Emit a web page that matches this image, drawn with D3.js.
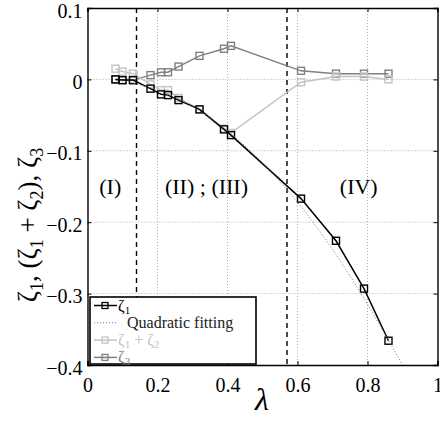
<!DOCTYPE html>
<html lang="en">
<head>
  <meta charset="UTF-8">
  <title>zeta vs lambda</title>
  <script src="https://d3js.org/d3.v7.min.js"></script>
  <style>
    body { margin: 0; background: #fff; }
    svg text { font-family: "Liberation Serif", "Times New Roman", Times, "DejaVu Serif", serif; }
  </style>
</head>
<body>
  <div id="chart"></div>

  <script>
    // values
    const lambdas   = [0.08, 0.10, 0.13, 0.18, 0.21, 0.23, 0.26, 0.32, 0.39, 0.41, 0.61, 0.71, 0.79, 0.86];
    const zeta1     = [0, -0.001, -0.001, -0.013, -0.021, -0.022, -0.029, -0.042, -0.070, -0.078, -0.167, -0.226, -0.293, -0.366];
    const zeta12    = [0.015, 0.011, 0.008, -0.007, -0.015, -0.015, -0.026, -0.042, -0.069, -0.075, -0.004, 0.004, 0.004, 0.0];
    const zeta3     = [0, -0.001, -0.001, 0.006, 0.010, 0.010, 0.018, 0.033, 0.043, 0.047, 0.012, 0.008, 0.008, 0.008];
    const fitLambda = [0.10, 0.20, 0.30, 0.40, 0.50, 0.60, 0.70, 0.80, 0.90];
    const fitValues = [-0.002, -0.015, -0.038, -0.072, -0.117, -0.172, -0.238, -0.315, -0.400];
    const regionBounds = [0.14, 0.57];
    const regionLabels = [{text: "(I)", x: 0.065}, {text: "(II) ; (III)", x: 0.34}, {text: "(IV)", x: 0.775}];
    const regionLabelY = -0.15;
    const xTicks = [0, 0.2, 0.4, 0.6, 0.8, 1];
    const yTicks = [0.1, 0, -0.1, -0.2, -0.3, -0.4];

    const SERIF = '"Liberation Serif", "Times New Roman", Times, serif';
    const W = 440, H = 421;
    const margin = {top: 8, right: 2.5, bottom: 56, left: 87.5};
    const width = W - margin.left - margin.right,
          height = H - margin.top - margin.bottom;

    const svg = d3.select("#chart").append("svg")
                  .attr("width", W)
                  .attr("height", H)
                  .attr("font-family", SERIF);
    const g = svg.append("g")
                 .attr("transform", `translate(${margin.left},${margin.top})`);

    const x = d3.scaleLinear().domain([0, 1]).range([0, width]);
    const y = d3.scaleLinear().domain([-0.4, 0.1]).range([height, 0]);

    // dotted grid
    g.append("g")
     .selectAll("line")
     .data(xTicks.slice(1, -1))
     .enter().append("line")
     .attr("x1", d => x(d)).attr("x2", d => x(d))
     .attr("y1", 0).attr("y2", height)
     .style("stroke", "#aaa").style("stroke-dasharray", "1,2");
    g.append("g")
     .selectAll("line")
     .data(yTicks.slice(1, -1))
     .enter().append("line")
     .attr("y1", d => y(d)).attr("y2", d => y(d))
     .attr("x1", 0).attr("x2", width)
     .style("stroke", "#aaa").style("stroke-dasharray", "1,2");

    // axes with inward ticks
    const fmt = d => d === 0 ? "0" : d === 1 ? "1" : d3.format(".1f")(d);
    const xAxis = g.append("g")
      .attr("transform", `translate(0,${height})`)
      .call(d3.axisBottom(x).tickValues(xTicks).tickSize(-4).tickPadding(13).tickFormat(fmt));
    const yAxis = g.append("g")
      .call(d3.axisLeft(y).tickValues(yTicks).tickSize(-4).tickPadding(6).tickFormat(fmt));
    g.append("g").call(d3.axisTop(x).tickValues(xTicks).tickSize(-4).tickFormat(""));
    g.append("g").attr("transform", `translate(${width},0)`)
     .call(d3.axisRight(y).tickValues(yTicks).tickSize(-4).tickFormat(""));
    g.selectAll(".domain").style("stroke", "#000").style("stroke-width", 1.4);
    g.selectAll(".tick line").style("stroke", "#000");
    [xAxis, yAxis].forEach(a => a.attr("font-family", SERIF).attr("font-size", 20));
    xAxis.selectAll("text").style("fill", "#000");
    yAxis.selectAll(".tick text").attr("x", -5).attr("dy", "0.45em").style("fill", "#000");

    // region separators
    g.append("g")
     .selectAll("line")
     .data(regionBounds)
     .enter().append("line")
     .attr("x1", d => x(d)).attr("x2", d => x(d))
     .attr("y1", 0).attr("y2", height)
     .style("stroke", "#000").style("stroke-width", 1.4).style("stroke-dasharray", "5,4");

    g.append("g")
     .selectAll("text")
     .data(regionLabels)
     .enter().append("text")
     .attr("x", d => x(d.x))
     .attr("y", y(regionLabelY))
     .attr("dy", "0.35em")
     .attr("text-anchor", "middle")
     .style("font-size", "22px")
     .text(d => d.text);

    // series
    const series = [
      {vals: zeta3,  color: "#808080"},
      {vals: zeta12, color: "#c4c4c4"},
      {vals: zeta1,  color: "#000"}
    ];
    const line = d3.line().x(d => x(d[0])).y(d => y(d[1]));

    series.forEach(s => {
      const pts = lambdas.map((l, i) => [l, s.vals[i]]);
      g.append("path")
       .attr("d", line(pts))
       .style("fill", "none").style("stroke", s.color).style("stroke-width", 1.5);
      g.append("g")
       .selectAll("rect")
       .data(pts)
       .enter().append("rect")
       .attr("x", d => x(d[0]) - 3.5).attr("y", d => y(d[1]) - 3.5)
       .attr("width", 7).attr("height", 7)
       .style("fill", "none").style("stroke", s.color).style("stroke-width", 1.4);
    });

    // quadratic fit (dotted)
    g.append("path")
     .attr("d", d3.line().curve(d3.curveNatural).x(d => x(d[0])).y(d => y(d[1]))(fitLambda.map((l, i) => [l, fitValues[i]])))
     .style("fill", "none").style("stroke", "#777").style("stroke-width", 1).style("stroke-dasharray", "1,2");

    // text with subscripts: parts are [string, isSub]
    function addParts(t, parts, subSize, shift) {
      parts.forEach(p => {
        const sp = t.append("tspan").text(p[0]);
        if (p[1]) sp.attr("dy", shift).style("font-size", subSize + "px");
        else if (sp.node().previousSibling) sp.attr("dy", -shift);
      });
    }

    // legend
    const leg = svg.append("g").attr("transform", "translate(90,297)");
    leg.append("rect").attr("width", 166).attr("height", 67)
       .style("fill", "#fff").style("stroke", "#000").style("stroke-width", 1.6);
    const entries = [
      {color: "#000", text: "#000", marker: true, dash: null, parts: [["ζ", 0], ["1", 1]], tx: 28},
      {color: "#777", text: "#222", marker: false, dash: "1,2", parts: [["Quadratic fitting", 0]], tx: 37},
      {color: "#c4c4c4", text: "#c4c4c4", marker: true, dash: null, parts: [["ζ", 0], ["1", 1], [" + ζ", 0], ["2", 1]], tx: 28},
      {color: "#808080", text: "#808080", marker: true, dash: null, parts: [["ζ", 0], ["3", 1]], tx: 28}
    ];
    entries.forEach((e, i) => {
      const cy = 8.5 + i * 17.3;
      leg.append("line").attr("x1", 4).attr("x2", 27).attr("y1", cy).attr("y2", cy)
         .style("stroke", e.color).style("stroke-width", e.marker ? 1.5 : 1.1)
         .style("stroke-dasharray", e.dash);
      if (e.marker) {
        leg.append("rect").attr("x", 12).attr("y", cy - 3).attr("width", 6).attr("height", 6)
           .style("fill", "none").style("stroke", e.color).style("stroke-width", 1.3);
      }
      const t = leg.append("text").attr("x", e.tx).attr("y", cy + 5)
         .style("font-size", "16px").style("fill", e.text);
      addParts(t, e.parts, 11, 3);
    });

    // axis titles
    svg.append("text")
       .attr("x", 262).attr("y", 410)
       .attr("text-anchor", "middle")
       .style("font-size", "32px").style("font-style", "italic")
       .text("λ");

    const yl = svg.append("text")
       .attr("transform", "translate(37,225) rotate(-90)")
       .attr("text-anchor", "middle")
       .style("font-size", "27px");
    addParts(yl, [["ζ", 0], ["1", 1], [", (ζ", 0], ["1", 1], [" + ζ", 0], ["2", 1], ["), ζ", 0], ["3", 1]], 18, 6);
  </script>
</body>
</html>
